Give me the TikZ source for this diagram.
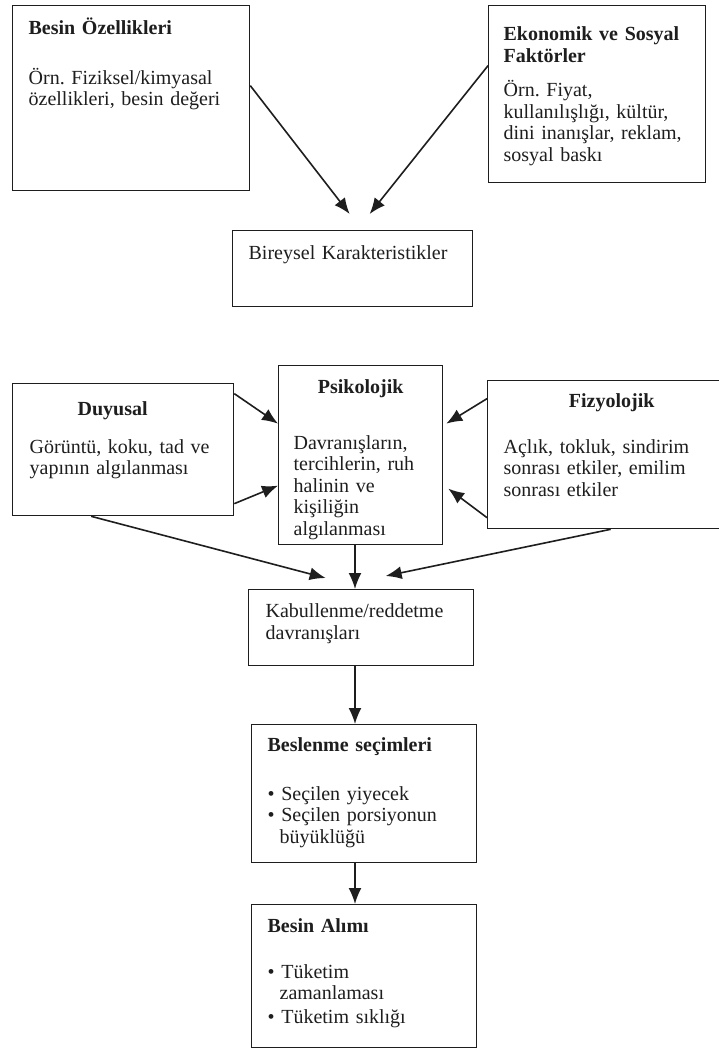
\documentclass[tikz,border=0pt]{standalone}
\usepackage{fontspec}
\setmainfont{Liberation Serif}
\usetikzlibrary{arrows.meta}
\usetikzlibrary{calc}
\definecolor{InkGray}{HTML}{1E1E1E}
\frenchspacing

\tikzset{
  box/.style={draw=InkGray, line width=1.3pt, anchor=north west, inner ysep=0pt,
    align=left, text=InkGray, font=\fontsize{20}{21.5}\selectfont},
  flow/.style={draw=InkGray, line width=1.6pt, -{Latex[length=16pt,width=13pt]}},
}
\newcommand{\hd}[1]{\textbf{#1}}

\begin{document}
\begin{tikzpicture}[x=1pt, y=-1pt]
  \useasboundingbox[fill=white] (0,0) rectangle (718,1049);
  \coordinate (spine) at (355,0);

  % top row
  \node[box, inner xsep=16pt, text width=205pt, text height=29pt, text depth=156pt]
    (besin) at (12,5) {\hd{Besin Özellikleri}\\[28pt]
      Örn. Fiziksel/kimyasal\\ özellikleri, besin değeri};
  \node[box, inner xsep=15pt, text width=187pt, text height=35pt, text depth=142pt]
    (ekonomik) at (488,5) {\hd{Ekonomik ve Sosyal}\\ \hd{Faktörler}\\[13pt]
      Örn. Fiyat,\\ kullanılışlığı, kültür,\\ dini inanışlar, reklam,\\ sosyal baskı};
  \node[box, inner xsep=16pt, text width=208pt, text height=29pt, text depth=47pt]
    (bireysel) at (232,230) {Bireysel Karakteristikler};

  % middle row
  \node[box, inner xsep=17pt, text width=187pt, text height=32pt, text depth=100pt]
    (duyusal) at (12,383) {\hspace*{48pt}\hd{Duyusal}\\[16pt]
      Görüntü, koku, tad ve\\ yapının algılanması};
  \node[box, inner xsep=15pt, text width=134pt, text height=28pt, text depth=151pt]
    (psik) at (278,365) {\makebox[134pt]{\hd{Psikolojik}}\\[34pt]
      Davranışların,\\ tercihlerin, ruh\\ halinin ve\\ kişiliğin\\ algılanması};
  \node[box, inner xsep=16pt, text width=216pt, text height=27pt, text depth=121pt]
    (fizy) at (487,380) {\makebox[216pt]{\hd{Fizyolojik}}\\[24pt]
      Açlık, tokluk, sindirim\\ sonrası etkiler, emilim\\ sonrası etkiler};

  % bottom column
  \node[box, inner xsep=17pt, text width=191pt, text height=28pt, text depth=48pt]
    (kabul) at (248,589) {Kabullenme/reddetme\\ davranışları};
  \node[box, inner xsep=16pt, text width=193pt, text height=27pt, text depth=111pt]
    (secim) at (251,724) {\hd{Beslenme seçimleri}\\[27pt]
      \textbullet\ Seçilen yiyecek\\ \textbullet\ Seçilen porsiyonun\\
      \hspace*{12pt}büyüklüğü};
  \node[box, inner xsep=16pt, text width=193pt, text height=28pt, text depth=115pt]
    (alim) at (251,904) {\hd{Besin Alımı}\\[24pt]
      \textbullet\ Tüketim\\ \hspace*{12pt}zamanlaması\\[2pt] \textbullet\ Tüketim sıklığı};

  \draw[flow] ([yshift=12.5pt]besin.east) -- ([xshift=-3pt,yshift=16pt]bireysel.north);
  \draw[flow] ([yshift=28.5pt]ekonomik.west) -- ([xshift=17pt,yshift=16pt]bireysel.north);

  \draw[flow] ([yshift=56pt]duyusal.east) -- ([yshift=31.5pt]psik.west);
  \draw[flow] ([yshift=-54pt]duyusal.east) -- ([yshift=-30.5pt]psik.west);
  \draw[flow] ([yshift=56pt]fizy.west) -- ([xshift=3pt,yshift=31.5pt]psik.east);
  \draw[flow] ([yshift=-63pt]fizy.west) -- ([xshift=5pt,yshift=-33.5pt]psik.east);

  \draw[flow] ([xshift=-32pt]duyusal.south) -- ([xshift=-35.5pt,yshift=11pt]kabul.north);
  \draw[flow] ([xshift=-1pt]fizy.south) -- ([xshift=24.5pt,yshift=13pt]kabul.north);
  \draw[flow] (spine |- psik.south) -- (spine |- kabul.north);
  \draw[flow] (spine |- kabul.south) -- (spine |- secim.north);
  \draw[flow] (spine |- secim.south) -- (spine |- alim.north);
\end{tikzpicture}
\end{document}
